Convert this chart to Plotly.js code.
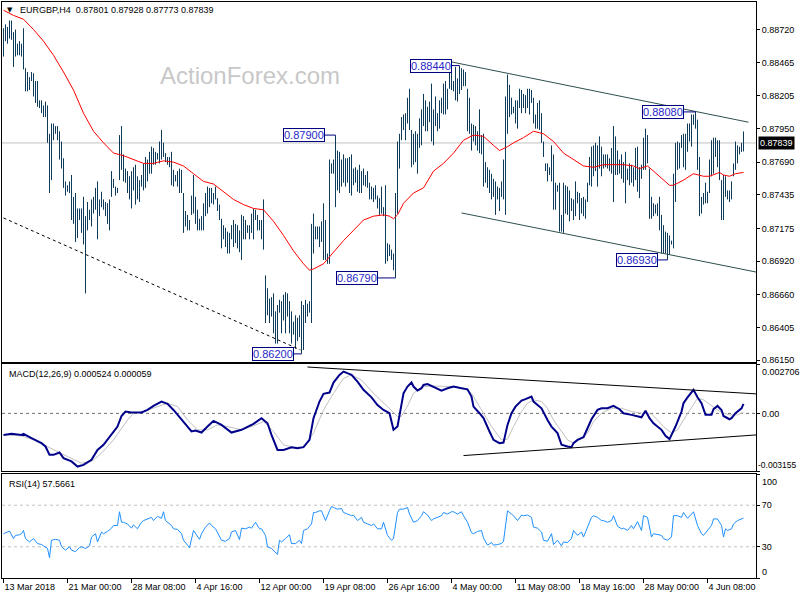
<!DOCTYPE html>
<html><head><meta charset="utf-8">
<script src="https://cdn.plot.ly/plotly-3.0.1.min.js"></script>
<style>html,body{margin:0;padding:0;background:#fff}#chart{width:800px;height:600px}</style>
</head><body><div id="chart"></div>
<script>
// ---------- DATA ----------
const symbolText = 'EURGBP,H4';
const lastOHLC = [0.87801, 0.87928, 0.87773, 0.87839];
const macdLast = 0.000524, signalLast = 0.000059, rsiLast = 57.5661;
const macdMax = 0.002706, macdMin = -0.003155;

// H4 bar highs / lows, bar index 0 = first visible bar
const highs = [
0.8873,0.8876,0.8874,0.8879,0.8879,0.8870,0.8872,0.8861,0.8863,0.8861,
0.8873,0.8842,0.8839,0.8835,0.8839,0.8838,0.8832,0.8832,0.8817,0.8817,
0.8813,0.8816,0.8813,0.8791,0.8799,0.8799,0.8797,0.8797,0.8793,0.8785,
0.8772,0.8754,0.8751,0.8754,0.8759,0.8742,0.8745,0.8733,0.8733,0.8733,
0.8742,0.8727,0.8738,0.8732,0.8740,0.8742,0.8749,0.8754,0.8740,0.8746,
0.8740,0.8738,0.8737,0.8740,0.8762,0.8756,0.8750,0.8749,0.8790,0.8797,
0.8775,0.8764,0.8762,0.8758,0.8762,0.8765,0.8767,0.8758,0.8755,0.8759,
0.8768,0.8773,0.8771,0.8777,0.8781,0.8780,0.8777,0.8776,0.8785,0.8794,
0.8784,0.8776,0.8773,0.8773,0.8777,0.8763,0.8759,0.8762,0.8764,0.8763,
0.8745,0.8731,0.8728,0.8724,0.8743,0.8759,0.8742,0.8732,0.8725,0.8727,
0.8737,0.8745,0.8750,0.8749,0.8749,0.8745,0.8750,0.8741,0.8736,0.8725,
0.8720,0.8718,0.8715,0.8714,0.8720,0.8724,0.8721,0.8720,0.8716,0.8728,
0.8727,0.8724,0.8720,0.8720,
0.8729,0.8733,0.8732,0.8728,0.8724,0.8724,0.8740,0.8681,0.8671,0.8663,
0.8664,0.8667,0.8653,0.8658,0.8662,0.8661,0.8666,0.8668,0.8667,0.8661,
0.8653,0.8645,0.8650,0.8648,0.8650,0.8661,0.8658,0.8662,0.8659,0.8661,
0.8721,0.8729,0.8719,0.8719,0.8719,0.8723,0.8737,0.8724,0.8698,0.8771,
0.8768,0.8771,0.8790,0.8778,0.8777,0.8771,0.8775,0.8772,0.8772,0.8773,
0.8775,0.8764,0.8765,0.8763,0.8767,0.8762,0.8764,0.8759,0.8762,0.8753,
0.8750,0.8749,0.8751,0.8743,0.8741,0.8750,0.8734,0.8751,0.8706,0.8705,
0.8701,0.8698,0.8745,0.8785,0.8791,0.8804,0.8806,0.8807,0.8819,0.8826,
0.8794,0.8791,0.8793,0.8791,0.8803,0.8810,0.8822,0.8817,0.8812,0.8816,
0.8830,0.8810,0.8820,0.8807,0.8817,0.8819,0.8830,0.8832,0.8826,0.8842,
0.8843,0.8832,0.8843,0.8834,0.8844,0.8842,0.8841,0.8839,0.8826,0.8819,
0.8799,0.8798,0.8797,0.8793,0.8810,0.8790,0.8791,0.8769,0.8765,0.8763,
0.8760,0.8756,0.8754,0.8750,0.8749,
0.8754,0.8771,0.8820,0.8837,0.8829,0.8819,0.8812,0.8817,0.8817,0.8826,
0.8825,0.8822,0.8821,0.8826,0.8826,0.8825,0.8819,0.8806,0.8815,0.8817,
0.8807,0.8785,0.8768,0.8768,0.8765,0.8782,0.8775,0.8753,0.8751,0.8753,
0.8728,0.8753,0.8751,0.8750,0.8747,0.8741,0.8740,0.8754,0.8746,0.8745,
0.8741,0.8742,0.8740,0.8753,0.8773,0.8781,0.8782,0.8784,0.8782,0.8789,
0.8781,0.8775,0.8775,0.8775,0.8772,0.8780,0.8797,0.8789,0.8778,0.8771,
0.8775,0.8769,0.8777,0.8764,0.8768,0.8767,0.8765,0.8780,0.8781,0.8765,
0.8767,0.8788,0.8795,0.8790,0.8764,0.8742,0.8737,0.8736,0.8737,0.8742,
0.8728,0.8720,0.8715,0.8714,0.8712,0.8708,0.8760,0.8784,0.8785,0.8784,
0.8790,0.8791,0.8791,0.8799,0.8799,0.8806,0.8806,0.8808,0.8802,0.8773,
0.8742,0.8745,0.8753,0.8746,0.8771,0.8786,0.8788,0.8788,0.8786,0.8786,
0.8755,0.8759,0.8758,0.8747,0.8747,0.8754,0.8768,0.8785,0.8782,0.8781,
0.8784,0.87928];

const lows = [
0.8851,0.8863,0.8861,0.8865,0.8864,0.8843,0.8851,0.8852,0.8852,0.8851,
0.8841,0.8824,0.8824,0.8825,0.8832,0.8820,0.8815,0.8812,0.8811,0.8807,
0.8804,0.8804,0.8784,0.8745,0.8755,0.8786,0.8791,0.8786,0.8771,0.8764,
0.8749,0.8743,0.8746,0.8745,0.8724,0.8721,0.8707,0.8710,0.8724,0.8714,
0.8705,0.8667,0.8716,0.8724,0.8719,0.8729,0.8732,0.8709,0.8727,0.8734,
0.8732,0.8727,0.8721,0.8716,0.8742,0.8749,0.8743,0.8745,0.8755,0.8763,
0.8754,0.8753,0.8745,0.8740,0.8733,0.8747,0.8736,0.8740,0.8738,0.8750,
0.8747,0.8749,0.8754,0.8760,0.8760,0.8767,0.8767,0.8771,0.8768,0.8771,
0.8773,0.8769,0.8767,0.8765,0.8751,0.8750,0.8754,0.8750,0.8745,0.8745,
0.8714,0.8719,0.8716,0.8716,0.8728,0.8729,0.8721,0.8716,0.8716,0.8716,
0.8716,0.8727,0.8729,0.8734,0.8737,0.8736,0.8740,0.8731,0.8724,0.8702,
0.8709,0.8703,0.8698,0.8698,0.8709,0.8703,0.8706,0.8702,0.8699,0.8693,
0.8709,0.8709,0.8714,0.8709,
0.8714,0.8709,0.8724,0.8716,0.8716,0.8709,0.8701,0.8644,0.8650,0.8644,
0.8649,0.8636,0.8628,0.8628,0.8652,0.8636,0.8646,0.8636,0.8649,0.8636,
0.8628,0.8635,0.8624,0.8630,0.8633,0.8620,0.8623,0.8644,0.8649,0.8652,
0.8644,0.8698,0.8709,0.8709,0.8703,0.8707,0.8693,0.8693,0.8690,0.8690,
0.8760,0.8760,0.8734,0.8747,0.8745,0.8750,0.8753,0.8750,0.8753,0.8745,
0.8743,0.8751,0.8753,0.8746,0.8745,0.8745,0.8751,0.8750,0.8749,0.8740,
0.8740,0.8738,0.8740,0.8733,0.8728,0.8729,0.8727,0.8690,0.8692,0.8696,
0.8693,0.8685,0.8679,0.8729,0.8764,0.8786,0.8794,0.8786,0.8799,0.8794,
0.8765,0.8767,0.8769,0.8760,0.8780,0.8782,0.8797,0.8793,0.8793,0.8800,
0.8785,0.8782,0.8797,0.8793,0.8795,0.8807,0.8806,0.8806,0.8810,0.8826,
0.8825,0.8824,0.8817,0.8816,0.8822,0.8825,0.8828,0.8828,0.8793,0.8791,
0.8778,0.8785,0.8782,0.8778,0.8776,0.8775,0.8750,0.8753,0.8749,0.8745,
0.8740,0.8742,0.8728,0.8740,0.8731,
0.8742,0.8740,0.8728,0.8791,0.8804,0.8806,0.8807,0.8799,0.8795,0.8811,
0.8807,0.8811,0.8807,0.8811,0.8806,0.8815,0.8799,0.8795,0.8795,0.8794,
0.8784,0.8773,0.8762,0.8754,0.8759,0.8754,0.8732,0.8732,0.8746,0.8715,
0.8715,0.8714,0.8729,0.8728,0.8723,0.8731,0.8724,0.8727,0.8737,0.8724,
0.8729,0.8727,0.8725,0.8738,0.8751,0.8750,0.8758,0.8762,0.8750,0.8764,
0.8758,0.8764,0.8765,0.8764,0.8762,0.8760,0.8738,0.8759,0.8759,0.8760,
0.8756,0.8753,0.8737,0.8755,0.8751,0.8753,0.8750,0.8755,0.8746,0.8741,
0.8756,0.8763,0.8763,0.8768,0.8725,0.8725,0.8727,0.8729,0.8727,0.8716,
0.8698,0.8698,0.8698,0.8693,0.8697,0.8705,0.8702,0.8738,0.8763,0.8764,
0.8780,0.8765,0.8763,0.8777,0.8785,0.8781,0.8798,0.8795,0.8763,0.8727,
0.8729,0.8736,0.8737,0.8737,0.8745,0.8758,0.8760,0.8773,0.8765,0.8755,
0.8724,0.8724,0.8742,0.8740,0.8738,0.8740,0.8758,0.8763,0.8768,0.8775,
0.8777,0.87773];

// moving average (red)
const maIdx = [0,5,10,15,20,25,30,35,40,45, 50,55,60,65,70,75,80,85,90,95,
 100,105,110,115,120,123,125,130,135,140, 145,150,153,155,160,165,170,175,180,185,
 190,193,195,197,200,205,210,215,220,225, 230,235,240,245,248,252,255,260,265,270,
 275,280,285,290,295,300,305,310,315,318, 320,322,325,330,333,335,340,345,348,350,
 353,356,358,360,363,366,370];
const maVal = [0.8887,0.8883,0.8880,0.8872,0.8863,0.8852,0.8839,0.8825,0.8807,0.8793,
 0.8784,0.8776,0.8774,0.8771,0.8768,0.8768,0.8770,0.8769,0.8766,0.8760,
 0.8754,0.8752,0.8746,0.8740,0.8736,0.8734,0.8733,0.8732,0.8723,0.8712,
 0.8700,0.8690,0.8685,0.8686,0.8690,0.8699,0.8708,0.8716,0.8724,0.8727,
 0.8728,0.8727,0.8725,0.8728,0.8737,0.8745,0.8749,0.8762,0.8768,0.8776,
 0.8786,0.8790,0.8789,0.8782,0.8778,0.8781,0.8784,0.8788,0.8793,0.8791,
 0.8785,0.8776,0.8771,0.8766,0.8765,0.8767,0.8767,0.8767,0.8766,0.8764,
 0.8765,0.8766,0.8762,0.8755,0.8751,0.8751,0.8755,0.8760,0.8759,0.8758,
 0.8758,0.8760,0.8761,0.8759,0.8758,0.8760,0.8761];

// MACD main line
const macdIdx = [0,4,9,10,14,19,21,23,25,28, 30,34,37,40,44,47,50,54,57,59,
 61,64,69,72,75,79,82,85,89,91, 94,96,99,102,105,109,114,119,122,125,
 129,132,134,137,140,144,147,150,153,155, 158,160,163,165,168,170,174,177,180,184,
 187,190,193,195,197,199,200,202,204,205, 207,209,210,212,215,219,222,225,229,232,
 234,235,238,240,243,245,248,250,252,254, 256,259,261,264,265,269,272,274,277,279,
 282,284,285,287,290,292,294,297,299,302, 305,308,310,314,317,319,321,323,325,329,
 331,333,334,336,339,340,342,344,345,347, 349,351,354,355,357,359,360,363,364,366,
 369,370];
const macdVal = [-0.00118,-0.00112,-0.00118,-0.00112,-0.00136,-0.00163,-0.00181,-0.00227,-0.00227,-0.00214,
 -0.00245,-0.00263,-0.00291,-0.00282,-0.00254,-0.00200,-0.00172,-0.00118,-0.00072,-0.00014,
 0.00010,0.00005,0.00005,0.00019,0.00041,0.00065,0.00052,0.00019,-0.00036,-0.00063,
 -0.00099,-0.00094,-0.00105,-0.00072,-0.00041,-0.00063,-0.00105,-0.00090,-0.00072,-0.00057,
 -0.00026,-0.00054,-0.00118,-0.00200,-0.00200,-0.00185,-0.00191,-0.00185,-0.00145,-0.00026,
 0.00065,0.00107,0.00114,0.00169,0.00211,0.00229,0.00211,0.00174,0.00129,0.00088,
 0.00046,0.00019,0.00001,-0.00090,-0.00072,0.00037,0.00110,0.00147,0.00169,0.00147,
 0.00125,0.00138,0.00156,0.00161,0.00147,0.00125,0.00138,0.00147,0.00138,0.00132,
 0.00092,0.00037,0.00001,-0.00026,-0.00099,-0.00145,-0.00163,-0.00160,-0.00063,0.00001,
 0.00037,0.00070,0.00078,0.00092,0.00065,0.00028,-0.00036,-0.00072,-0.00108,-0.00172,
 -0.00181,-0.00185,-0.00163,-0.00145,-0.00130,-0.00081,-0.00032,0.00019,0.00028,0.00028,
 0.00041,0.00023,0.00001,-0.00008,-0.00014,-0.00021,0.00015,-0.00026,-0.00054,-0.00090,
 -0.00123,-0.00141,-0.00118,-0.00072,0.00010,0.00056,0.00088,0.00114,0.00129,0.00088,
 0.00056,-0.00008,-0.00008,0.00023,0.00041,0.00019,-0.00014,-0.00032,-0.00026,0.00001,
 0.00028,0.000524];

// MACD signal line
const sigIdx = [0,9,15,24,32,39,44,49,55,62, 65,70,77,82,87,92,97,102,107,112,
 119,125,130,135,140,145,150,155,160,165, 170,174,179,185,192,197,199,202,205,209,
 214,219,225,230,234,239,244,249,252,255, 259,262,265,269,272,275,279,282,285,289,
 292,295,299,304,309,314,319,324,327,330, 334,337,340,344,347,350,354,357,360,363,
 367,370];
const sigVal = [-0.00118,-0.00123,-0.00145,-0.00191,-0.00236,-0.00273,-0.00263,-0.00218,-0.00145,-0.00036,
 0.00001,0.00010,0.00037,0.00056,0.00037,-0.00036,-0.00090,-0.00090,-0.00063,-0.00072,
 -0.00090,-0.00068,-0.00045,-0.00099,-0.00172,-0.00185,-0.00185,-0.00108,0.00019,0.00110,
 0.00192,0.00211,0.00183,0.00110,0.00037,-0.00017,-0.00015,0.00040,0.00110,0.00145,
 0.00150,0.00147,0.00147,0.00138,0.00110,0.00019,-0.00072,-0.00145,-0.00141,-0.00072,
 0.00010,0.00056,0.00074,0.00065,0.00028,-0.00036,-0.00099,-0.00145,-0.00163,-0.00136,
 -0.00108,-0.00045,0.00001,0.00028,0.00028,0.00010,0.00001,-0.00003,-0.00036,-0.00072,
 -0.00108,-0.00090,-0.00036,0.00028,0.00083,0.00074,0.00041,0.00019,0.00001,-0.00008,
 -0.00008,0.000059];

// RSI(14)
const rsiIdx = [0,2,3,5,6,8,9,10,11,13, 15,17,19,20,22,23,24,26,28,29,
 31,33,34,36,38,39,41,43,44,46, 47,49,50,52,54,55,57,58,59,60,
 62,64,65,67,69,70,72,74,75,77, 79,80,81,82,84,85,87,89,90,92,
 93,95,97,98,99,101,103,104,106,108, 109,111,113,114,116,118,119,121,123,124,
 126,128,129,131,132,134,135,137,138,139, 141,143,144,146,148,149,150,152,154,155,
 156,158,159,161,163,164,165,167,169,170, 172,174,175,177,179,180,182,184,185,187,
 189,190,192,194,195,197,198,200,202,203, 205,207,209,210,212,214,215,217,219,220,
 222,224,225,227,229,230,232,234,235,237, 239,240,242,244,245,247,249,250,252,254,
 255,257,259,260,262,264,265,267,269,270, 272,274,275,277,279,280,282,284,285,287,
 289,290,292,294,295,297,299,300,302,304, 305,307,309,310,312,314,315,317,319,320,
 322,324,325,327,329,330,332,334,335,337, 339,340,342,344,345,347,349,350,352,354,
 355,357,359,360,361,362,364,365,367,369, 370];
const rsiVal = [42.6,44.2,45.1,37.9,41.0,41.6,42.6,45.7,37.9,34.7, 37.9,33.1,32.2,30.9,28.4,19.6,36.3,37.2,36.3,30.0,
 26.8,30.0,26.8,25.3,29.3,30.0,28.4,30.9,39.4,42.6, 34.7,44.2,42.6,44.8,47.9,50.5,50.5,63.7,53.6,53.6,
 52.0,47.9,51.1,47.3,53.6,55.2,56.8,58.3,55.2,59.3, 57.4,63.7,55.2,53.6,50.5,47.3,46.7,42.6,36.3,31.6,
 29.0,45.7,39.4,37.2,42.6,48.9,53.0,50.5,47.3,39.4, 36.3,35.3,37.9,44.2,45.7,36.9,47.9,47.3,48.9,47.9,
 53.6,47.3,47.3,41.0,30.0,28.4,26.8,22.7,36.3,34.7, 37.9,41.6,33.1,33.1,36.3,33.1,45.7,47.3,52.0,63.0,
 63.0,64.6,64.6,55.2,64.6,68.7,67.8,66.2,66.8,63.0, 61.5,59.9,60.5,55.2,58.3,53.6,52.0,50.5,52.0,47.3,
 47.3,53.6,41.0,36.3,37.9,63.0,66.2,66.2,67.8,61.5, 53.6,55.2,59.9,63.7,60.5,55.2,56.8,58.3,59.9,63.0,
 61.5,63.7,63.7,61.5,63.7,59.9,53.6,43.5,42.6,44.8, 45.7,38.5,31.6,34.1,31.6,32.2,33.1,35.3,64.6,61.5,
 59.9,55.2,60.5,59.9,60.5,58.3,48.9,47.9,44.2,36.3, 35.3,42.6,32.2,36.3,30.9,34.7,34.1,37.9,45.7,41.0,
 44.2,39.4,48.9,58.3,59.9,58.3,55.2,55.2,53.6,55.2, 59.9,49.8,47.3,47.9,45.7,50.5,47.3,54.2,45.7,59.9,
 58.3,39.4,42.6,41.6,41.0,37.9,36.3,39.4,59.9,59.9, 58.3,63.0,57.4,61.5,63.7,50.5,42.6,41.0,45.7,50.5,
 56.8,56.8,50.5,39.4,47.3,45.7,47.3,52.0,55.2,56.8, 57.5661];

// time axis labels (bar index of each label)
const timeTickIdx = [0,32,64,96,128,160,192,224,256,288,320,352];
const timeTickText = ['13 Mar 2018','21 Mar 00:00','28 Mar 08:00','4 Apr 16:00','12 Apr 00:00','19 Apr 08:00',
  '26 Apr 16:00','4 May 00:00','11 May 08:00','18 May 16:00','28 May 00:00','4 Jun 08:00'];
const priceTicks = [0.86150,0.86405,0.86660,0.86920,0.87175,0.87435,0.87690,0.87950,0.88205,0.88465,0.88720];

// swing labels
const swingIdx   = [228, 166, 196, 149, 346, 332];
const swingPrice = [0.88440, 0.87900, 0.86790, 0.86200, 0.88080, 0.86930];

// drawn trend lines: [bar index], [value]
const trendIdx = [0, 148.5], trendPrice = [0.87256, 0.86231];
const chanUpIdx = [223.5, 372.5], chanUpPrice = [0.8847, 0.8800];
const chanLoIdx = [229, 376.25], chanLoPrice = [0.87295, 0.86836];
const macdUpIdx = [152, 376.25], macdUpVal = [0.00254, 0.00107];
const macdLoIdx = [230, 376.25], macdLoVal = [-0.00231, -0.00118];

// ---------- BUILD ----------
const FONT = 'Liberation Sans, Arial, sans-serif';
const bx = [], by = [];
highs.forEach((h, i) => { bx.push(i, i, null); by.push(lows[i], h, null); });

const barCol = '#0f3b5a';
const traces = [
  {x: bx, y: by, mode: 'lines', line: {color: barCol, width: 1}, xaxis: 'x', yaxis: 'y', hoverinfo: 'skip'},
  {x: maIdx, y: maVal, mode: 'lines', line: {color: '#ff0000', width: 1}, xaxis: 'x', yaxis: 'y'},
  {x: trendIdx, y: trendPrice, mode: 'lines', line: {color: '#000', width: 1, dash: '3px,3px'}, xaxis: 'x', yaxis: 'y'},
  {x: chanUpIdx, y: chanUpPrice, mode: 'lines', line: {color: '#2f4f4f', width: 1}, xaxis: 'x', yaxis: 'y'},
  {x: chanLoIdx, y: chanLoPrice, mode: 'lines', line: {color: '#2f4f4f', width: 1}, xaxis: 'x', yaxis: 'y'},
  {x: sigIdx, y: sigVal, mode: 'lines', line: {color: '#c0c0c0', width: 1}, xaxis: 'x2', yaxis: 'y2'},
  {x: macdIdx, y: macdVal, mode: 'lines', line: {color: '#00008b', width: 2}, xaxis: 'x2', yaxis: 'y2'},
  {x: macdUpIdx, y: macdUpVal, mode: 'lines', line: {color: '#000', width: 1}, xaxis: 'x2', yaxis: 'y2'},
  {x: macdLoIdx, y: macdLoVal, mode: 'lines', line: {color: '#000', width: 1}, xaxis: 'x2', yaxis: 'y2'},
  {x: rsiIdx, y: rsiVal, mode: 'lines', line: {color: '#1e90ff', width: 1}, xaxis: 'x3', yaxis: 'y3'}
];

const xr = [-0.75, 376.25];
const baseX = {range: xr, showgrid: false, zeroline: false, showline: true, mirror: true,
  linecolor: '#000', linewidth: 1, fixedrange: true};
const baseY = {side: 'right', showgrid: false, zeroline: false, showline: true, mirror: true,
  linecolor: '#000', linewidth: 1, ticks: 'outside', ticklen: 3, tickcolor: '#000',
  tickfont: {family: FONT, size: 9, color: '#000'}};

const H = 576; // plot height in px (t=2,b=22)
const py = p => (578 - p) / H;          // page y -> paper y
const px = p => (p - 2) / 754;          // page x -> paper x

const annotations = [
  {xref: 'paper', yref: 'paper', x: px(18), y: py(10), xanchor: 'left', yanchor: 'middle', showarrow: false,
   text: symbolText + '  ' + lastOHLC.map(v => v.toFixed(5)).join(' '), font: {family: FONT, size: 9, color: '#000'}},
  {xref: 'paper', yref: 'paper', x: px(9.5), y: py(10.5), xanchor: 'center', yanchor: 'middle', showarrow: false,
   text: '▼', font: {family: 'DejaVu Sans', size: 7, color: '#000'}},
  {xref: 'paper', yref: 'paper', x: px(250), y: py(75), xanchor: 'center', yanchor: 'middle', showarrow: false,
   text: 'ActionForex.com', font: {family: FONT, size: 24, color: '#c8c8c8'}},
  {xref: 'paper', yref: 'paper', x: px(7), y: py(373.5), xanchor: 'left', yanchor: 'middle', showarrow: false,
   text: 'MACD(12,26,9) ' + macdLast.toFixed(6) + ' ' + signalLast.toFixed(6), font: {family: FONT, size: 9, color: '#000'}},
  {xref: 'paper', yref: 'paper', x: px(7), y: py(484), xanchor: 'left', yanchor: 'middle', showarrow: false,
   text: 'RSI(14) ' + rsiLast.toFixed(4), font: {family: FONT, size: 9, color: '#000'}},
  // current price tag
  {xref: 'paper', yref: 'y', x: 1, y: lastOHLC[3], xanchor: 'left', yanchor: 'middle', xshift: 2, showarrow: false,
   text: lastOHLC[3].toFixed(5), bgcolor: '#000', borderpad: 1, font: {family: FONT, size: 9, color: '#fff'}},
  // MACD / RSI end-of-scale labels (drawn inside the pane like the terminal does)
  {xref: 'paper', yref: 'y2', x: 1, y: macdMax, xanchor: 'left', yanchor: 'middle', xshift: 4, yshift: -8, showarrow: false,
   text: macdMax.toFixed(6), font: {family: FONT, size: 9, color: '#000'}},
  {xref: 'paper', yref: 'y2', x: 1, y: macdMin, xanchor: 'left', yanchor: 'middle', xshift: 1, yshift: 6, showarrow: false,
   borderpad: 0, text: macdMin.toFixed(6), font: {family: FONT, size: 8.5, color: '#000'}},
  {xref: 'paper', yref: 'y3', x: 1, y: 100, xanchor: 'left', yanchor: 'middle', xshift: 4, yshift: -8, showarrow: false,
   text: '100', font: {family: FONT, size: 9, color: '#000'}},
  {xref: 'paper', yref: 'y3', x: 1, y: 0, xanchor: 'left', yanchor: 'middle', xshift: 4, yshift: 6, showarrow: false,
   text: '0', font: {family: FONT, size: 9, color: '#000'}}
];
const swingAx = [-28.5, -31.5, -39, -29, -33, -31];
swingIdx.forEach((i, k) => {
  annotations.push({xref: 'x', yref: 'y', x: i, y: swingPrice[k], text: swingPrice[k].toFixed(5),
    showarrow: true, arrowhead: 0, arrowwidth: 1, arrowcolor: '#000080', standoff: 0, startstandoff: 0,
    ax: swingAx[k], ay: 0, bgcolor: '#fff', bordercolor: '#000080', borderwidth: 1, borderpad: 0,
    font: {family: FONT, size: 11, color: '#2828c8'}});
});

const shapes = [
  {type: 'line', xref: 'x domain', yref: 'y', x0: 0, x1: 1, y0: lastOHLC[3], y1: lastOHLC[3], line: {color: '#c0c0c0', width: 1}, layer: 'below'},
  {type: 'line', xref: 'x2 domain', yref: 'y2', x0: 0, x1: 1, y0: 0, y1: 0, line: {color: '#707070', width: 1, dash: '3px,3px'}, layer: 'below'},
  {type: 'line', xref: 'x3 domain', yref: 'y3', x0: 0, x1: 1, y0: 70, y1: 70, line: {color: '#c0c0c0', width: 1, dash: '3px,3px'}, layer: 'below'},
  {type: 'line', xref: 'x3 domain', yref: 'y3', x0: 0, x1: 1, y0: 30, y1: 30, line: {color: '#c0c0c0', width: 1, dash: '3px,3px'}, layer: 'below'}
];

const layout = {
  width: 800, height: 600, margin: {l: 2, r: 44, t: 2, b: 22},
  paper_bgcolor: '#fff', plot_bgcolor: '#fff', showlegend: false,
  font: {family: FONT, size: 9, color: '#000'},
  xaxis: Object.assign({}, baseX, {anchor: 'y', showticklabels: false, ticks: ''}),
  xaxis2: Object.assign({}, baseX, {anchor: 'y2', showticklabels: false, ticks: ''}),
  xaxis3: Object.assign({}, baseX, {anchor: 'y3', ticks: 'outside', ticklen: 4, tickcolor: '#000',
    tickvals: timeTickIdx, ticktext: timeTickText, ticklabelposition: 'outside right',
    tickfont: {family: FONT, size: 9, color: '#000'}}),
  yaxis: Object.assign({}, baseY, {anchor: 'x', domain: [216 / H, 1], range: [0.86137, 0.88934],
    tickvals: priceTicks, ticktext: priceTicks.map(v => v.toFixed(5))}),
  yaxis2: Object.assign({}, baseY, {anchor: 'x2', domain: [107 / H, 214 / H], range: [macdMin, macdMax],
    tickvals: [macdMax, 0, macdMin], ticktext: ['', '0.00', '']}),
  yaxis3: Object.assign({}, baseY, {anchor: 'x3', domain: [0, 104 / H], range: [0, 100],
    tickvals: [100, 70, 30, 0], ticktext: ['', '70', '30', '']}),
  annotations: annotations, shapes: shapes
};

Plotly.newPlot('chart', traces, layout, {staticPlot: true, displayModeBar: false});
</script></body></html>
